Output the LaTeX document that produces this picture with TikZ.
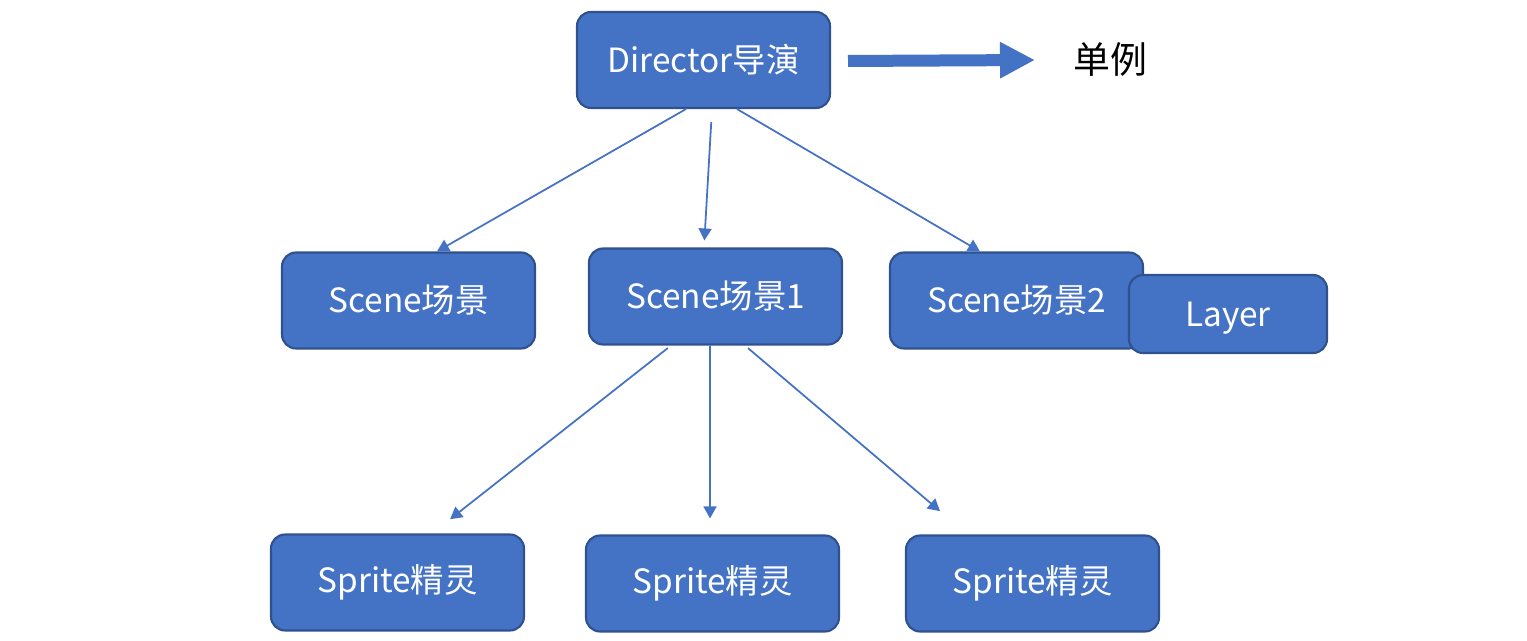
\documentclass[tikz,border=0pt]{standalone}
\usepackage{fontspec}
\setmainfont{Noto Sans CJK SC}
\usetikzlibrary{arrows.meta,positioning}
\definecolor{boxblue}{HTML}{4472C4}
\definecolor{boxline}{HTML}{2F528F}

\begin{document}
\begin{tikzpicture}[auto,
		main node/.style={rectangle,rounded corners=1.4mm,draw=boxline,line width=0.6pt,fill=boxblue,
			text=white,font=\fontsize{9.5pt}{11pt}\selectfont,minimum width=2.53cm,minimum height=0.96cm,inner sep=0pt},
		link/.style={-{Triangle[length=1.2mm,width=1.3mm]},draw=boxblue,line width=0.5pt}]

	\useasboundingbox (0,0) rectangle (15.27,6.41);

	\node[main node] (dir) at (7.035,5.81) {Director导演};
	\node[main node] (sc) at (4.085,3.405) {Scene场景};
	\node[main node] (sc1) at (7.155,3.445) {Scene场景1};
	\node[main node] (sc2) at (10.165,3.405) {Scene场景2};
	\node[main node,minimum width=1.98cm,minimum height=0.78cm,text depth=0pt] (layer) at (12.28,3.27) {Layer};
	\node[main node] (sp1) at (3.975,0.585) {Sprite精灵};
	\node[main node] (sp2) at (7.125,0.575) {Sprite精灵};
	\node[main node] (sp3) at (10.325,0.575) {Sprite精灵};
	\node[font=\fontsize{10.5pt}{12pt}\selectfont] (single) at (11.10,5.81) {单例};

	\coordinate (tail) at (8.48,5.80);
	\draw[boxblue,line width=1.2mm,-{Triangle[length=3.5mm,width=3.4mm]}] (tail) -- (single.west -| 10.35,0);

	\draw[link] ([xshift=-1.75mm]dir.south) -- ([xshift=2.85mm]sc.north);
	\draw[link,shorten <=1.3mm,shorten >=0.7mm] ([xshift=0.85mm]dir.south) -- ([xshift=-1.15mm]sc1.north);
	\draw[link] ([xshift=3.35mm]dir.south) -- ([xshift=-3.65mm]sc2.north);
	\draw[link,shorten <=0.4mm,shorten >=2.3mm] ([xshift=-4.45mm]sc1.south) -- ([xshift=3.45mm]sp1.north);
	\draw[link,shorten >=1.6mm] ([xshift=-0.55mm]sc1.south) -- ([xshift=-0.25mm]sp2.north);
	\draw[link,shorten <=0.4mm,shorten >=3.6mm] ([xshift=2.95mm]sc1.south) -- ([xshift=-6.5mm]sp3.north);
\end{tikzpicture}
\end{document}
